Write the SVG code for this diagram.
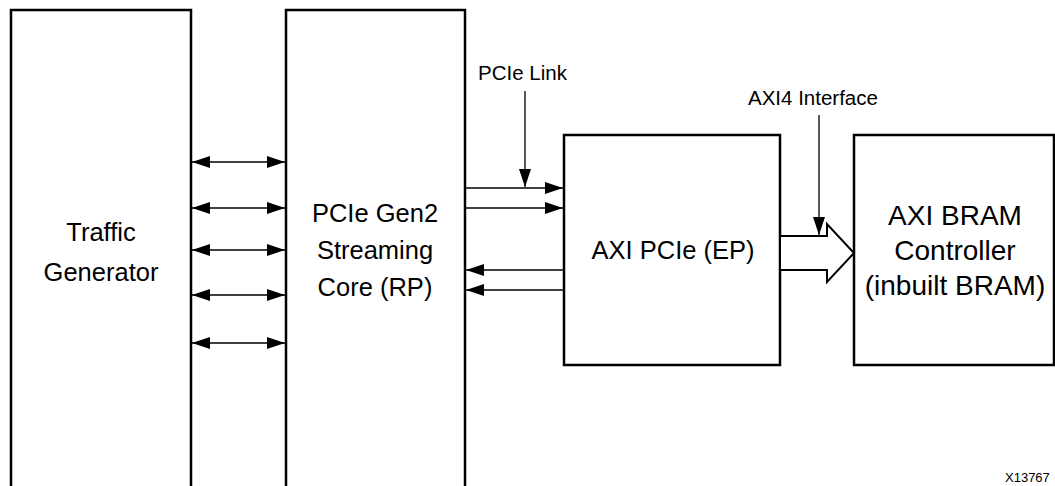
<svg xmlns="http://www.w3.org/2000/svg" width="1055" height="486" viewBox="0 0 1055 486">
<style>
.box{fill:#fff;stroke:#000;stroke-width:2.5}
.lbl{font-family:"Liberation Sans",Arial,sans-serif;font-size:25.5px;fill:#000;text-anchor:middle}
.big{font-size:28px}
.sm{font-family:"Liberation Sans",Arial,sans-serif;font-size:20.5px;fill:#000}
.ln{stroke:#000;stroke-width:1.3;fill:none}
</style>
<defs>
<marker id="ah" viewBox="0 0 18 12" refX="18" refY="6" markerWidth="18" markerHeight="12" markerUnits="userSpaceOnUse" orient="auto-start-reverse">
<path d="M0,0 L18,6 L0,12 Z" fill="#000"/>
</marker>
</defs>
<g id="traffic-generator">
<rect class="box" x="11" y="10" width="180" height="490"/>
<text class="lbl" x="101" y="241">Traffic</text>
<text class="lbl" x="101" y="281">Generator</text>
</g>
<g id="pcie-gen2">
<rect class="box" x="286" y="10" width="179" height="490"/>
<text class="lbl" x="375" y="222">PCIe Gen2</text>
<text class="lbl" x="375" y="259">Streaming</text>
<text class="lbl" x="375" y="296">Core (RP)</text>
</g>
<g id="axi-pcie">
<rect class="box" x="564" y="135" width="216" height="230"/>
<text class="lbl" x="673" y="259">AXI PCIe (EP)</text>
</g>
<g id="axi-bram">
<rect class="box" x="854" y="135" width="200" height="230"/>
<text class="lbl big" x="955" y="225">AXI BRAM</text>
<text class="lbl big" x="955" y="260">Controller</text>
<text class="lbl big" x="955" y="295">(inbuilt BRAM)</text>
</g>
<g id="connectors">
<line class="ln" x1="192" y1="162" x2="285" y2="162" marker-start="url(#ah)" marker-end="url(#ah)"/>
<line class="ln" x1="192" y1="208" x2="285" y2="208" marker-start="url(#ah)" marker-end="url(#ah)"/>
<line class="ln" x1="192" y1="250" x2="285" y2="250" marker-start="url(#ah)" marker-end="url(#ah)"/>
<line class="ln" x1="192" y1="295" x2="285" y2="295" marker-start="url(#ah)" marker-end="url(#ah)"/>
<line class="ln" x1="192" y1="343" x2="285" y2="343" marker-start="url(#ah)" marker-end="url(#ah)"/>
<line class="ln" x1="466" y1="188" x2="563" y2="188" marker-end="url(#ah)"/>
<line class="ln" x1="466" y1="208" x2="563" y2="208" marker-end="url(#ah)"/>
<line class="ln" x1="564" y1="270" x2="466" y2="270" marker-end="url(#ah)"/>
<line class="ln" x1="564" y1="290" x2="466" y2="290" marker-end="url(#ah)"/>
<line class="ln" x1="525" y1="91" x2="525" y2="187" marker-end="url(#ah)"/>
<path d="M781,236 L827,236 L827,224 L854,253 L827,282 L827,270 L781,270" fill="#fff" stroke="#000" stroke-width="2"/>
<line class="ln" x1="819" y1="115" x2="819" y2="235" marker-end="url(#ah)"/>
</g>
<text class="sm" x="478" y="80">PCIe Link</text>
<text class="sm" x="748" y="105">AXI4 Interface</text>
<text class="sm" x="1005" y="482" style="font-size:13px">X13767</text>
</svg>
